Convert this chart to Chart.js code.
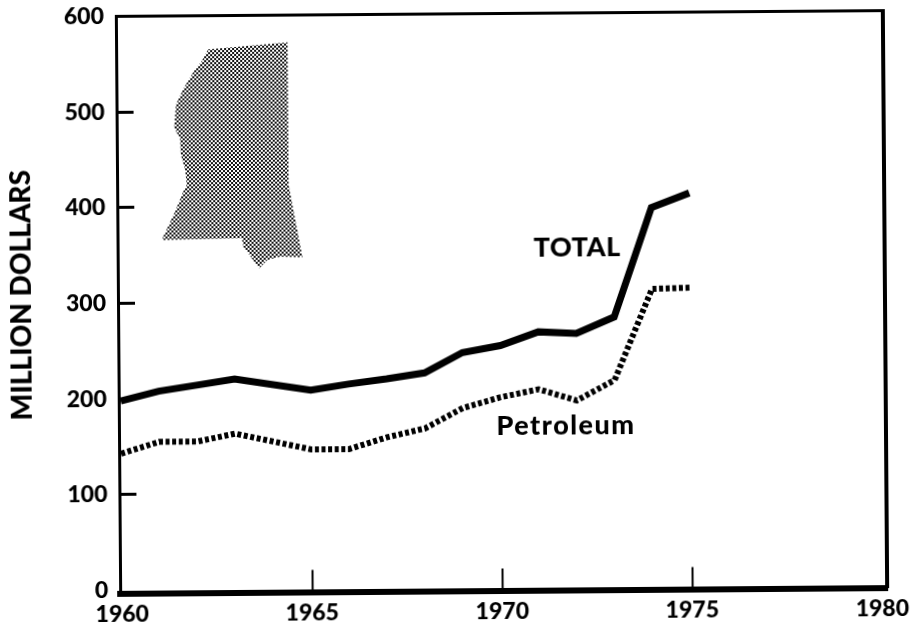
<!DOCTYPE html>
<html>
<head>
<meta charset="utf-8">
<script src="https://cdn.jsdelivr.net/npm/chart.js@4"></script>
<style>
html,body{margin:0;padding:0;background:#fff;overflow:hidden}
canvas{display:block;transform-origin:501.5px 301.5px;transform:rotate(-0.43deg)}
</style>
</head>
<body>
<canvas id="c" width="917" height="624" style="width:917px;height:624px"></canvas>
<script>
const years = [1960,1961,1962,1963,1965,1966,1967,1968,1969,1970,1971,1972,1973,1974,1975];
const totalValues = [198,208,214,220,208,214,219,225,246,253,267,265,282,396,411];
const petroleumValues = [143,155,155,163,146,146,158,167,188,199,207,195,216,311,312];
const yTicks = [0,100,200,300,400,500,600];
const xTicks = [1960,1965,1970,1975,1980];
const mapYears = [1964.46,1962.37,1962.20,1962.02,1961.71,1961.51,1961.46,1961.61,1961.63,1961.74,1961.78,1961.67,1961.47,1961.11,1963.22,1963.26,1963.67,1963.88,1964.22,1964.81,1964.58,1964.47,1964.46];
const mapValues = [571.6,564.6,552.4,543.8,523.7,507.2,482.9,472.3,454.9,439.2,423.5,414.8,395.6,366,367.1,358.3,335.6,344.3,347.6,346.8,396.4,420.8,571.6];
const seriesLabels = [{text:'TOTAL',x:1972.04,y:355,size:27,spacing:0.5},{text:'Petroleum',x:1971.71,y:169,size:27,spacing:1.5}];
const yAxisTitle = 'MILLION DOLLARS';

const pts = (xs,ys)=>xs.map((x,i)=>({x,y:ys[i]}));
const tile = document.createElement('canvas');
tile.width = tile.height = 4;
const tc = tile.getContext('2d');
tc.fillStyle = '#fff'; tc.fillRect(0,0,4,4);
tc.fillStyle = '#111'; tc.fillRect(0,0,2,2); tc.fillRect(2,2,2,2);
const ctx = document.getElementById('c').getContext('2d');
const pattern = ctx.createPattern(tile,'repeat');
const FONT = 'Lato, "Open Sans", sans-serif';
const noPad = s=>{s.paddingTop=0;s.paddingBottom=0;s.paddingLeft=0;s.paddingRight=0};

const textPlugin = {
  id:'seriesText',
  afterDatasetsDraw(chart){
    const c = chart.ctx, sx = chart.scales.x, sy = chart.scales.y;
    c.save();
    c.fillStyle = '#000';
    c.textAlign = 'center'; c.textBaseline = 'middle';
    seriesLabels.forEach(l=>{
      c.font = `900 ${l.size}px ${FONT}`;
      c.letterSpacing = l.spacing+'px';
      c.fillText(l.text, sx.getPixelForValue(l.x), sy.getPixelForValue(l.y));
    });
    c.letterSpacing = '0px';
    c.font = `900 28px ${FONT}`;
    c.translate(22, sy.getPixelForValue(309.5));
    c.rotate(-Math.PI/2);
    c.fillText(yAxisTitle, 0, 0);
    c.restore();
  }
};

new Chart(ctx,{
  type:'scatter',
  data:{datasets:[
    {label:'Map',data:pts(mapYears,mapValues),showLine:true,fill:'shape',backgroundColor:pattern,borderWidth:0,pointRadius:0,tension:0},
    {label:'TOTAL',data:pts(years,totalValues),showLine:true,borderColor:'#000',borderWidth:7,pointRadius:0,tension:0,borderJoinStyle:'miter'},
    {label:'Petroleum',data:pts(years,petroleumValues),showLine:true,borderColor:'#000',borderWidth:6,borderDash:[4,2.6],pointRadius:0,tension:0,borderJoinStyle:'miter'}
  ]},
  options:{
    responsive:false,animation:false,
    layout:{padding:0},
    plugins:{legend:{display:false},tooltip:{enabled:false}},
    scales:{
      x:{type:'linear',position:'bottom',min:1959.947,max:1980.13,
        afterBuildTicks(s){s.ticks=xTicks.map(value=>({value}))},
        afterFit(s){s.height=33.5;noPad(s)},
        border:{display:true,width:6,color:'#000'},
        grid:{drawOnChartArea:false,drawTicks:true,tickLength:-22,tickWidth:2,
          tickColor:c=>(c.tick&&(c.tick.value===1960||c.tick.value===1980))?'rgba(0,0,0,0)':'#000'},
        ticks:{padding:29,maxRotation:0,autoSkip:false,color:'#000',font:{family:FONT,size:23,weight:'900'},callback:v=>String(v)}
      },
      x2:{type:'linear',position:'top',min:1960,max:1980,
        afterFit(s){s.height=13.5;noPad(s)},
        border:{display:true,width:3,color:'#000'},
        grid:{display:false,drawTicks:false},ticks:{display:false}
      },
      y:{type:'linear',position:'left',min:-3,max:600,
        afterBuildTicks(s){s.ticks=yTicks.map(value=>({value}))},
        afterFit(s){s.width=118;noPad(s)},
        border:{display:true,width:3,color:'#000'},
        grid:{drawOnChartArea:false,drawTicks:true,tickLength:-17,tickWidth:3,
          tickColor:c=>(c.tick&&(c.tick.value===0||c.tick.value===600))?'rgba(0,0,0,0)':'#000'},
        ticks:{padding:29,autoSkip:false,color:'#000',font:{family:FONT,size:23,weight:'900'},callback:v=>String(v)}
      },
      y2:{type:'linear',position:'right',min:0,max:600,
        afterFit(s){s.width=32;noPad(s)},
        border:{display:true,width:4,color:'#000'},
        grid:{display:false,drawTicks:false},ticks:{display:false}
      }
    }
  },
  plugins:[textPlugin]
});
</script>
</body>
</html>
